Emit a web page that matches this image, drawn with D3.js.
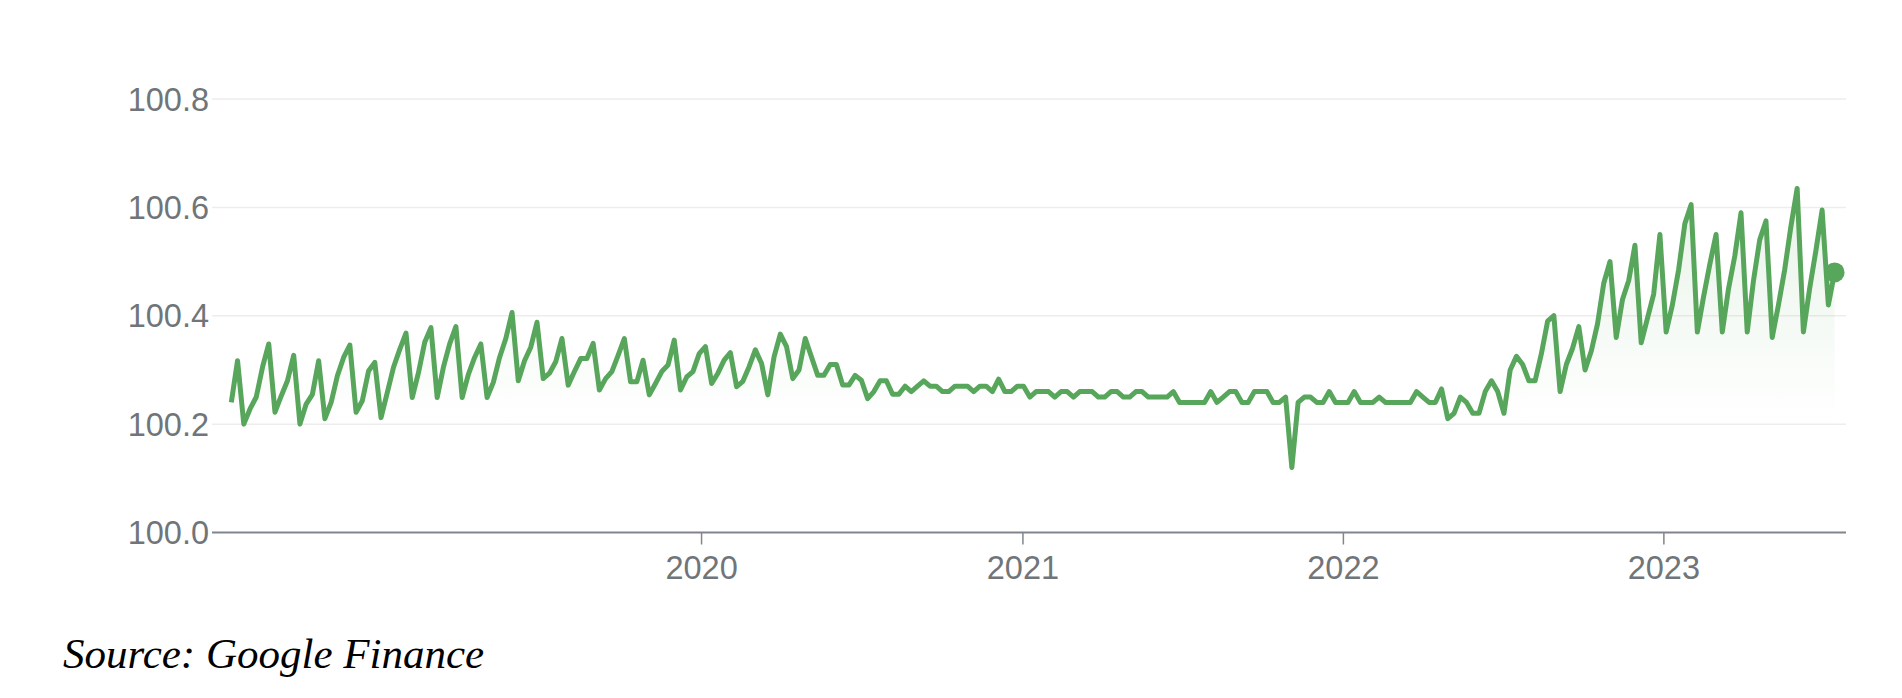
<!DOCTYPE html>
<html>
<head>
<meta charset="utf-8">
<title>Price chart</title>
<script src="https://cdn.jsdelivr.net/npm/d3@7"></script>
<style>
    body { margin: 0; background: #ffffff; }
    .grid line { stroke: #ededed; stroke-width: 1.5; }
    .yLabel, .xLabel { font-family: Arial, "Liberation Sans", sans-serif; font-size: 32.5px; fill: #70757a; }
    .source { font-family: "Liberation Serif", "Times New Roman", serif; font-style: italic; font-size: 43px; fill: #000000; }
</style>
</head>
<body>
<script>
(function(){

//first and last sample dates, samples are evenly spaced between them
var startDate = "2018-07-15",
    endDate = "2023-07-15";

//price values, oldest first
var prices2018_2019 = [
    100.24, 100.317, 100.20, 100.228, 100.25, 100.305, 100.348, 100.222, 100.252, 100.28,
    100.327, 100.20, 100.237, 100.255, 100.317, 100.21, 100.24, 100.289, 100.323, 100.346,
    100.222, 100.243, 100.298, 100.314, 100.212, 100.258, 100.305, 100.338, 100.368, 100.249,
    100.295, 100.351, 100.378, 100.249, 100.305, 100.348, 100.38, 100.249, 100.292, 100.323,
    100.348, 100.249, 100.277, 100.323, 100.358, 100.406, 100.28, 100.317, 100.342, 100.388
];
var prices2019_2020 = [
    100.284, 100.294, 100.315, 100.358, 100.272, 100.297, 100.321, 100.321, 100.349, 100.263,
    100.284, 100.297, 100.327, 100.358, 100.278, 100.278, 100.318, 100.254, 100.275, 100.297,
    100.309, 100.355, 100.263, 100.287, 100.297, 100.33, 100.343, 100.275, 100.294, 100.318,
    100.332, 100.269, 100.279, 100.306, 100.337, 100.312, 100.254, 100.324, 100.366, 100.343,
    100.284, 100.30, 100.358, 100.324, 100.29, 100.29, 100.31, 100.31, 100.272, 100.272,
    100.29, 100.281, 100.247, 100.26
];
var prices2020_2021 = [
    100.28, 100.28, 100.255, 100.255, 100.27, 100.26, 100.27, 100.28, 100.27, 100.27,
    100.26, 100.26, 100.27, 100.27, 100.27, 100.26, 100.27, 100.27, 100.26, 100.283,
    100.26, 100.26, 100.27, 100.27, 100.25, 100.26, 100.26, 100.26, 100.25, 100.26,
    100.26, 100.25, 100.26, 100.26, 100.26, 100.25, 100.25, 100.26, 100.26, 100.25,
    100.25, 100.26, 100.26, 100.25, 100.25, 100.25, 100.25, 100.26, 100.24, 100.24,
    100.24
];
var prices2021_2022 = [
    100.24, 100.24, 100.26, 100.24, 100.25, 100.26, 100.26, 100.24, 100.24, 100.26,
    100.26, 100.26, 100.24, 100.24, 100.25, 100.12, 100.24, 100.25, 100.25, 100.24,
    100.24, 100.26, 100.24, 100.24, 100.24, 100.26, 100.24, 100.24, 100.24, 100.25,
    100.24, 100.24, 100.24, 100.24, 100.24, 100.26, 100.25, 100.24, 100.24, 100.265,
    100.21, 100.22, 100.25, 100.24, 100.22, 100.22, 100.26, 100.28, 100.26, 100.22,
    100.30, 100.325
];
var prices2022_2023 = [
    100.31, 100.28, 100.28, 100.33, 100.39, 100.40, 100.26, 100.31, 100.34, 100.38,
    100.30, 100.335, 100.385, 100.46, 100.50, 100.36, 100.43, 100.465, 100.53, 100.35,
    100.395, 100.44, 100.55, 100.37, 100.42, 100.485, 100.57, 100.605, 100.37, 100.435,
    100.495, 100.55, 100.37, 100.45, 100.51, 100.59, 100.37, 100.465, 100.54, 100.575,
    100.36, 100.42, 100.485, 100.565, 100.635, 100.37, 100.45, 100.52, 100.595, 100.42,
    100.48
];

//axis ticks
var yTicks = [100.0, 100.2, 100.4, 100.6, 100.8];
var xTickYears = ["2020", "2021", "2022", "2023"];
var sourceText = "Source: Google Finance";

var green = "#57a65b";

window.onload = drawChart();

function drawChart(){
    var width = 1902,
        height = 698,
        plotLeft = 212,
        plotRight = 1846,
        plotTop = 99,
        plotBottom = 532.5;

    var parseDate = d3.timeParse("%Y-%m-%d");

    //join the pieces into one series
    var prices = prices2018_2019.concat(prices2019_2020, prices2020_2021, prices2021_2022, prices2022_2023);
    var t0 = parseDate(startDate).getTime(),
        t1 = parseDate(endDate).getTime();
    var data = prices.map(function(p, i){
        return { date: new Date(t0 + i * (t1 - t0) / (prices.length - 1)), value: p };
    });

    var svg = d3.select("body")
        .append("svg")
        .attr("width", width)
        .attr("height", height);

    //scales
    var x = d3.scaleTime()
        .domain([parseDate("2018-06-23"), parseDate("2023-07-28")])
        .range([plotLeft, plotRight]);

    var y = d3.scaleLinear()
        .domain([100.0, 100.8])
        .range([plotBottom, plotTop]);

    //horizontal gridlines
    svg.append("g")
        .attr("class", "grid")
        .selectAll("line")
        .data(yTicks.slice(1))
        .enter()
        .append("line")
        .attr("x1", plotLeft)
        .attr("x2", plotRight)
        .attr("y1", function(d){ return y(d); })
        .attr("y2", function(d){ return y(d); });

    //y labels
    svg.append("g")
        .selectAll("text")
        .data(yTicks)
        .enter()
        .append("text")
        .attr("class", "yLabel")
        .attr("x", plotLeft - 3)
        .attr("y", function(d){ return y(d) + 11.5; })
        .attr("text-anchor", "end")
        .text(function(d){ return d.toFixed(1); });

    //gradient under the line
    var defs = svg.append("defs");
    var grad = defs.append("linearGradient")
        .attr("id", "areaFill")
        .attr("gradientUnits", "userSpaceOnUse")
        .attr("x1", 0).attr("x2", 0)
        .attr("y1", y(100.64)).attr("y2", y(100.2));
    grad.append("stop").attr("offset", "0%").attr("stop-color", green).attr("stop-opacity", 0.14);
    grad.append("stop").attr("offset", "100%").attr("stop-color", green).attr("stop-opacity", 0);

    var area = d3.area()
        .x(function(d){ return x(d.date); })
        .y0(plotBottom)
        .y1(function(d){ return y(d.value); });

    svg.append("path")
        .datum(data)
        .attr("d", area)
        .attr("fill", "url(#areaFill)");

    //x axis
    var xAxis = d3.axisBottom(x)
        .tickValues(xTickYears.map(function(d){ return parseDate(d + "-01-01"); }))
        .tickSize(12)
        .tickFormat(d3.timeFormat("%Y"));

    var axis = svg.append("g")
        .attr("transform", "translate(0," + plotBottom + ")")
        .call(xAxis);
    axis.select(".domain").remove();
    axis.selectAll(".tick line")
        .attr("stroke", "#80868b")
        .attr("stroke-width", 1.5);
    axis.selectAll(".tick text")
        .attr("class", "xLabel")
        .attr("y", 46.5)
        .attr("dy", null)
        .attr("font-family", null)
        .attr("font-size", null)
        .attr("fill", null);

    //baseline
    svg.append("line")
        .attr("x1", plotLeft)
        .attr("x2", plotRight)
        .attr("y1", plotBottom)
        .attr("y2", plotBottom)
        .attr("stroke", "#80868b")
        .attr("stroke-width", 2);

    //price line
    var line = d3.line()
        .x(function(d){ return x(d.date); })
        .y(function(d){ return y(d.value); });

    svg.append("path")
        .datum(data)
        .attr("d", line)
        .attr("fill", "none")
        .attr("stroke", green)
        .attr("stroke-width", 5)
        .attr("stroke-linejoin", "round");

    //dot on the last value
    var last = data[data.length - 1];
    svg.append("circle")
        .attr("cx", x(last.date))
        .attr("cy", y(last.value))
        .attr("r", 10)
        .attr("fill", green);

    //source note
    svg.append("text")
        .attr("class", "source")
        .attr("x", 63)
        .attr("y", 668)
        .text(sourceText);
};

})();
</script>
</body>
</html>
